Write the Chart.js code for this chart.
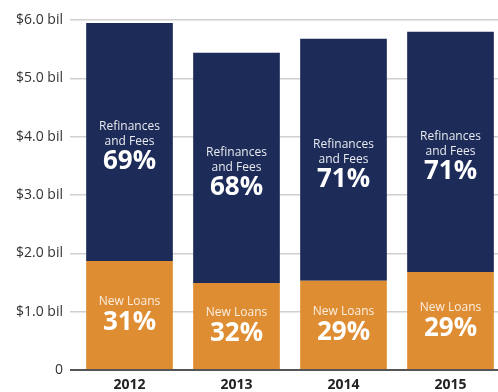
<!DOCTYPE html>
<html>
<head>
<meta charset="utf-8">
<script src="https://cdn.jsdelivr.net/npm/chart.js@4/dist/chart.umd.min.js"></script>
<style>
  html, body { margin: 0; padding: 0; background: #fff; overflow: hidden; }
  #wrap { width: 498px; height: 392px; overflow: hidden; }
  canvas { display: block; }
</style>
</head>
<body>
<div id="wrap"><canvas id="chart" width="504" height="392"></canvas></div>
<script>
// Values (billions of dollars)
var years = ['2012', '2013', '2014', '2015'];
var newLoans = [1.87, 1.49, 1.53, 1.68];
var refinances = [4.08, 3.95, 4.15, 4.12];
var newLoansPct = ['31%', '32%', '29%', '29%'];
var refinancesPct = ['69%', '68%', '71%', '71%'];
var yTicks = [0, 1, 2, 3, 4, 5, 6];

var NAVY = '#1c2b58';
var ORANGE = '#df8d33';
var FONT = "'Open Sans', 'Noto Sans', sans-serif";

// Draws the "New Loans 31%" style labels centred in each bar segment
var segmentLabels = {
  id: 'segmentLabels',
  afterDatasetsDraw: function (chart) {
    var ctx = chart.ctx;
    ctx.save();
    ctx.fillStyle = '#ffffff';
    ctx.textAlign = 'center';
    ctx.textBaseline = 'middle';
    chart.data.datasets.forEach(function (ds, di) {
      var meta = chart.getDatasetMeta(di);
      meta.data.forEach(function (bar, i) {
        var props = bar.getProps(['x', 'y', 'base'], true);
        var cy = (props.y + props.base) / 2;
        if (di === 0) {
          ctx.font = '12px ' + FONT;
          ctx.globalAlpha = 0.85;
          ctx.fillText('New Loans', props.x, cy - 13);
          ctx.globalAlpha = 1;
          ctx.font = 'bold 26px ' + FONT;
          ctx.fillText(newLoansPct[i], props.x, cy + 8);
        } else {
          ctx.font = '12px ' + FONT;
          ctx.globalAlpha = 0.9;
          ctx.fillText('Refinances', props.x, cy - 15);
          ctx.fillText('and Fees', props.x, cy);
          ctx.globalAlpha = 1;
          ctx.font = 'bold 26px ' + FONT;
          ctx.fillText(refinancesPct[i], props.x, cy + 20);
        }
      });
    });
    ctx.restore();
  }
};

new Chart(document.getElementById('chart'), {
  type: 'bar',
  data: {
    labels: years,
    datasets: [
      { label: 'New Loans', data: newLoans, backgroundColor: ORANGE },
      { label: 'Refinances and Fees', data: refinances, backgroundColor: NAVY }
    ]
  },
  options: {
    responsive: false,
    animation: false,
    categoryPercentage: 1,
    barPercentage: 0.81,
    layout: { padding: { top: 20, right: 0, left: 0, bottom: 0 } },
    plugins: { legend: { display: false }, tooltip: { enabled: false } },
    scales: {
      x: {
        stacked: true,
        grid: { display: false },
        border: { display: true, color: '#555555', width: 2 },
        ticks: {
          padding: 0,
          color: '#222222',
          font: { family: FONT, size: 14, weight: 'bold', lineHeight: 1 }
        },
        afterFit: function (scale) { scale.height = 22; }
      },
      y: {
        stacked: true,
        min: 0,
        max: 6,
        afterBuildTicks: function (scale) {
          scale.ticks = yTicks.map(function (v) { return { value: v }; });
        },
        grid: {
          color: function (c) { return c.tick && c.tick.value === 0 ? '#555555' : '#d0d0d0'; },
          lineWidth: function (c) { return c.tick && c.tick.value === 0 ? 2 : 1.5; },
          tickLength: 6,
          drawTicks: true
        },
        border: { display: false },
        ticks: {
          padding: 7,
          color: '#333333',
          font: { family: FONT, size: 14 },
          callback: function (v) { return v === 0 ? '0' : '$' + v.toFixed(1) + ' bil'; }
        },
        afterFit: function (scale) { scale.width = 76; }
      }
    }
  },
  plugins: [segmentLabels]
});
</script>
</body>
</html>
